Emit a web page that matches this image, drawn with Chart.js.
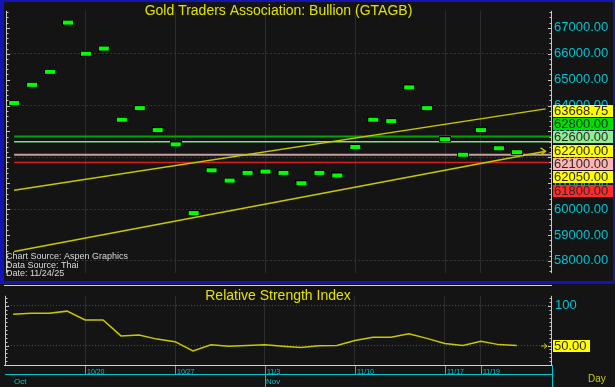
<!DOCTYPE html>
<html>
<head>
<meta charset="utf-8">
<script src="https://cdn.jsdelivr.net/npm/chart.js@4.4.1/dist/chart.umd.min.js"></script>
<style>
html, body { margin:0; padding:0; background:#141414; }
#wrap { position:relative; width:615px; height:387px; overflow:hidden; }
#main { position:absolute; left:0; top:0; }
#rsi { position:absolute; left:0; top:284px; }
</style>
</head>
<body>
<div id="wrap">
  <canvas id="main" width="615" height="284"></canvas>
  <canvas id="rsi" width="615" height="103"></canvas>
</div>
<script>
// trading days shown on the chart
const days = ['10/14','10/15','10/16','10/17','10/20','10/21','10/22','10/23','10/24',
  '10/27','10/28','10/29','10/30','10/31','11/3','11/4','11/5','11/6','11/7',
  '11/10','11/11','11/12','11/13','11/14','11/17','11/18','11/19','11/20','11/21']
// bullion price (baht)
const closes = [64100,64800,65300,67200,66000,66200,63450,63900,63050,
  62500,59850,61500,61100,61400,61450,61400,61000,61400,61300,
  62400,63450,63400,64700,63900,62700,62100,63050,62350,62200]
// relative strength index
const rsiValues = [89,90.4,90.4,93,82,82,62,63,58,
  54.8,43.3,51,49,50,50.8,49,47.4,49.7,50,
  56.3,60.4,60.4,64.8,58.9,52.6,50,55.2,51.1,50]

const dateTicks = ['10/20','10/27','11/3','11/10','11/17','11/19']
const monthLabels = ['Oct','Nov']
const monthStarts = ['10/14','11/3']
const priceTicks = [58000,59000,60000,61000,62000,63000,64000,65000,66000,67000]
const rsiTicks = [50,100]

// horizontal levels and their value tags on the price axis
const levelValues = [62800,62600,62100,61800]
const tagValues = [63668.75,62800,62600,62200,62100,62050,61800]
// trend lines: value at first day and at line end (day index)
const trendEnds = [0,29.6]
const upperTrend = [60730,63870]
const lowerTrend = [58360,62230]

const levelColors = ['#00a800','#80e080','#c4a0a0','#d82020']
const levelWidths = [2,1.5,2,1.5]
const tagColors = ['#ffff00','#00e000','#90ee90','#ffff00','#ffb4b4','#ffff00','#ff2a2a']

const BG = '#141414'
const BLUE = '#1414b4'
const CYAN = '#00c4d0'
const YELLOW = '#e2e200'
const LINEY = '#c8c800'
const FONT = 'Liberation Sans, Arial, sans-serif'

function makeBar(){
	const cv = document.createElement('canvas')
	cv.width = 12; cv.height = 6
	const g = cv.getContext('2d')
	g.fillStyle = '#000'; g.fillRect(0,0,12,6)
	g.fillStyle = '#00ff00'; g.fillRect(1,1,10,4)
	return cv
}

function sideTicks(c, scale, area, step, major){
	c.strokeStyle = '#c8c8c8'
	c.lineWidth = 1
	c.beginPath()
	c.moveTo(area.left+0.5, area.top); c.lineTo(area.left+0.5, area.bottom)
	c.moveTo(area.right+0.5, area.top); c.lineTo(area.right+0.5, area.bottom)
	let v = Math.ceil(scale.min/step)*step
	for (; v <= scale.max; v += step){
		const y = Math.round(scale.getPixelForValue(v)) + 0.5
		const len = (Math.abs(v % major) < 1e-6) ? 4 : 2.5
		c.moveTo(area.left, y); c.lineTo(area.left+len, y)
		c.moveTo(area.right+1, y); c.lineTo(area.right-len+1, y)
	}
	c.stroke()
}

const pts = closes.map((v,i) => ({x:i, y:v}))
const levelSets = levelValues.map((v,i) => ({
	data: [{x:0,y:v},{x:29.95,y:v}],
	borderColor: levelColors[i], borderWidth: levelWidths[i],
	pointRadius: 0, showLine: true
}))
const trendSet = (vals) => ({
	data: trendEnds.map((x,i) => ({x:x, y:vals[i]})),
	borderColor: LINEY, borderWidth: 1.5, pointRadius: 0, showLine: true
})

const mainDeco = {
	id: 'mainDeco',
	beforeDraw(chart){
		const c = chart.ctx
		c.save(); c.fillStyle = BG; c.fillRect(0,0,chart.width,chart.height); c.restore()
	},
	afterDatasetsDraw(chart){
		// arrow head on the lower trend line
		const c = chart.ctx, xs = chart.scales.x, ys = chart.scales.y
		const x = xs.getPixelForValue(trendEnds[1]), y = ys.getPixelForValue(lowerTrend[1])
		c.save()
		c.strokeStyle = LINEY; c.lineWidth = 1.3
		c.beginPath()
		c.moveTo(x-5, y-3.5); c.lineTo(x, y); c.lineTo(x-5, y+3.5)
		c.stroke()
		c.restore()
	},
	afterDraw(chart){
		const c = chart.ctx, a = chart.chartArea, ys = chart.scales.y
		c.save()
		sideTicks(c, ys, a, 200, 1000)

		// value tags stacked on the axis, anchored at the last price
		const last = closes[closes.length-1]
		const anchor = tagValues.indexOf(last)
		const pitch = 13.3
		const y0 = ys.getPixelForValue(last) - 1.5
		c.font = '13px ' + FONT
		c.textBaseline = 'middle'
		c.textAlign = 'left'
		tagValues.forEach((v,i) => {
			const cy = y0 + (i-anchor)*pitch
			c.fillStyle = tagColors[i]
			c.fillRect(553, Math.round(cy-6), 60, 12)
			c.fillStyle = '#2a2a2a'
			c.fillText(v.toFixed(2), 554, cy+0.5)
		})

		// title
		c.fillStyle = YELLOW
		c.font = '14px ' + FONT
		c.textAlign = 'center'
		c.fillText('Gold Traders Association: Bullion (GTAGB)', (a.left+a.right)/2, 11)

		// footnote
		c.fillStyle = '#dadada'
		c.font = '9px ' + FONT
		c.textAlign = 'left'
		c.fillText('Chart Source: Aspen Graphics', 6, 257)
		c.fillText('Data Source: Thai', 6, 265.5)
		c.fillText('Date: 11/24/25', 6, 274)

		// blue frame
		c.fillStyle = BLUE
		c.fillRect(0,0,chart.width,2)
		c.fillRect(0,0,4,chart.height)
		c.fillRect(chart.width-2,0,2,chart.height)
		c.fillRect(0,chart.height-3,chart.width,3)
		c.restore()
	}
}

new Chart(document.getElementById('main'), {
	type: 'scatter',
	data: {
		datasets: [
			{ data: pts, pointStyle: makeBar(), pointRadius: 5, showLine: false },
			trendSet(upperTrend),
			trendSet(lowerTrend)
		].concat(levelSets)
	},
	options: {
		responsive: false,
		animation: false,
		layout: { padding: { left:5, top:3, right:0, bottom:3 } },
		plugins: { legend: { display:false }, tooltip: { enabled:false } },
		scales: {
			x: {
				type: 'linear', min: -0.45, max: 29.9,
				afterBuildTicks: s => { s.ticks = dateTicks.map(d => ({ value: days.indexOf(d) })) },
				afterFit: s => { s.height = 0 },
				ticks: { display:false },
				grid: { color:'#2c2c2c', drawTicks:false },
				border: { display:false }
			},
			y: {
				position: 'right', min: 57526, max: 67656,
				afterBuildTicks: s => { s.ticks = priceTicks.map(v => ({ value: v })) },
				afterFit: s => { s.width = 64 },
				ticks: { color: CYAN, font: { family: FONT, size: 13 }, padding: 3,
					callback: v => Number(v).toFixed(2) },
				grid: { color: ctx => (ctx.tick && ctx.tick.value % 2000 === 0) ? '#333333' : 'rgba(0,0,0,0)', drawTicks:false },
				border: { display:false, dash:[2,2] }
			}
		}
	},
	plugins: [mainDeco]
})

const rsiDeco = {
	id: 'rsiDeco',
	beforeDraw(chart){
		const c = chart.ctx
		c.save(); c.fillStyle = BG; c.fillRect(0,0,chart.width,chart.height); c.restore()
	},
	afterDraw(chart){
		const c = chart.ctx, a = chart.chartArea, xs = chart.scales.x, ys = chart.scales.y
		c.save()
		sideTicks(c, ys, a, 5, 50)
		c.strokeStyle = '#d0d0d0'
		c.beginPath()
		c.moveTo(4, 1.5); c.lineTo(a.right+1, 1.5)
		c.moveTo(4, a.bottom+0.5); c.lineTo(a.right+1, a.bottom+0.5)
		c.stroke()

		// title
		c.fillStyle = YELLOW
		c.font = '14px ' + FONT
		c.textAlign = 'center'
		c.textBaseline = 'middle'
		c.fillText('Relative Strength Index', (a.left+a.right)/2, 12)

		// last value marker and tag
		const lastR = rsiValues[rsiValues.length-1]
		const ry = ys.getPixelForValue(lastR)
		c.strokeStyle = LINEY; c.lineWidth = 1
		c.beginPath()
		c.moveTo(541, ry+0.5); c.lineTo(547, ry+0.5)
		c.moveTo(544, ry-2); c.lineTo(547, ry+0.5); c.lineTo(544, ry+3)
		c.stroke()
		c.fillStyle = '#ffff00'
		c.fillRect(553, Math.round(ry-6), 37, 12)
		c.fillStyle = '#2a2a2a'
		c.font = '13px ' + FONT
		c.textAlign = 'left'
		c.fillText(lastR.toFixed(2), 554, ry+0.5)

		// date axis
		const base = a.bottom + 9.5
		c.strokeStyle = CYAN; c.lineWidth = 1
		c.beginPath()
		c.moveTo(a.left, base); c.lineTo(a.right+1, base)
		c.moveTo(a.right+1.5, a.bottom); c.lineTo(a.right+1.5, chart.height)
		dateTicks.forEach(d => {
			const px = Math.round(xs.getPixelForValue(days.indexOf(d))) + 0.5
			const full = monthStarts.indexOf(d) > 0
			c.moveTo(px, a.bottom+1); c.lineTo(px, full ? chart.height : base)
		})
		c.stroke()
		c.fillStyle = CYAN
		c.font = '7px ' + FONT
		c.textBaseline = 'alphabetic'
		dateTicks.forEach(d => {
			const px = Math.round(xs.getPixelForValue(days.indexOf(d)))
			c.fillText(d, px+2, base-1)
		})
		c.font = '8px ' + FONT
		monthLabels.forEach((m,i) => {
			const px = Math.round(xs.getPixelForValue(days.indexOf(monthStarts[i])))
			c.fillText(m, px+1, base+9)
		})
		c.fillStyle = LINEY
		c.font = '10px ' + FONT
		c.fillText('Day', 588, base+7)
		c.restore()
	}
}

new Chart(document.getElementById('rsi'), {
	type: 'line',
	data: {
		datasets: [{
			data: rsiValues.map((v,i) => ({x:i, y:v})),
			borderColor: LINEY, borderWidth: 1.5, pointRadius: 0, tension: 0
		}]
	},
	options: {
		responsive: false,
		animation: false,
		layout: { padding: { left:5, top:3, right:0, bottom:22 } },
		plugins: { legend: { display:false }, tooltip: { enabled:false } },
		scales: {
			x: {
				type: 'linear', min: -0.45, max: 29.9,
				afterBuildTicks: s => { s.ticks = dateTicks.map(d => ({ value: days.indexOf(d) })) },
				afterFit: s => { s.height = 0 },
				ticks: { display:false },
				grid: { color:'#2c2c2c', drawTicks:false },
				border: { display:false }
			},
			y: {
				position: 'right', min: 25.6, max: 112.2,
				afterBuildTicks: s => { s.ticks = rsiTicks.map(v => ({ value: v })) },
				afterFit: s => { s.width = 64 },
				ticks: { color: CYAN, font: { family: FONT, size: 13 }, padding: 4,
					callback: v => v === 100 ? '100' : '' },
				grid: { color:'#4a4a4a', drawTicks:false },
				border: { display:false, dash:[1,2] }
			}
		}
	}
	, plugins: [rsiDeco]
})
</script>
</body>
</html>
